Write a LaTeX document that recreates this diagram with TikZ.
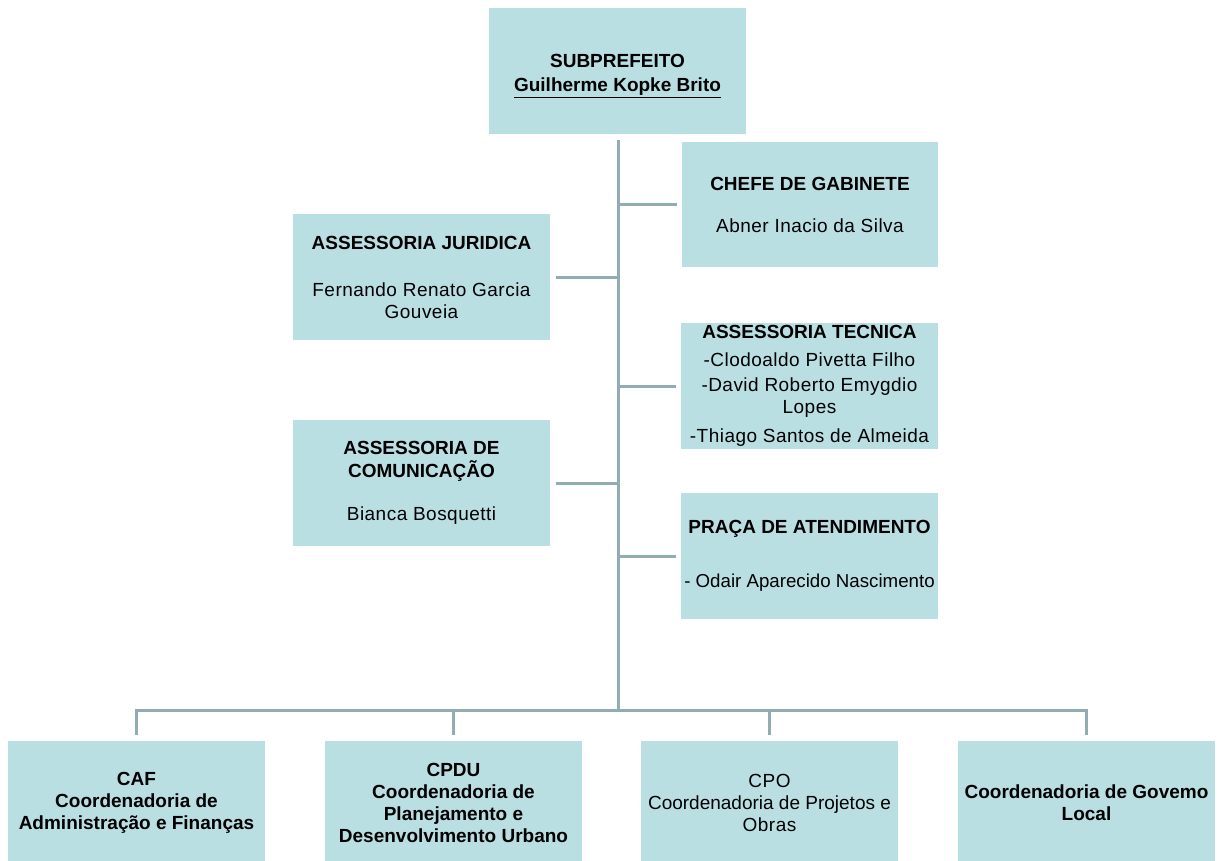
\documentclass[tikz,border=0pt]{standalone}
\usepackage{fontspec}
\setmainfont{Liberation Sans}[LetterSpace=2.5, BoldFeatures={LetterSpace=0}]
\newfontfamily\tightfont{Liberation Sans}
\definecolor{boxfill}{RGB}{186,223,227}
\definecolor{linecol}{RGB}{145,172,178}
\begin{document}
\begin{tikzpicture}[x=1pt,y=-1pt,
  orgbox/.style={fill=boxfill, draw=none, inner sep=0pt, minimum width=257pt, minimum height=126pt, align=center, font=\fontsize{19}{22}\selectfont},
  conn/.style={draw=linecol, line width=3pt}]
\useasboundingbox (0,0) rectangle (1223,861);
\fill[white] (0,0) rectangle (1223,861);
% boxes
\node[orgbox] (sub) at (617.5,71) {\rule{0pt}{23pt}\textbf{SUBPREFEITO}\\[2pt]\textbf{\underline{Guilherme Kopke Brito}}};
\node[orgbox, minimum width=256pt, minimum height=125pt] (chefe) at (810,204.5) {\textbf{CHEFE DE GABINETE}\\[20pt]Abner Inacio da Silva};
\node[orgbox] (jur) at (421.5,277) {\textbf{ASSESSORIA JURIDICA}\\[25pt]Fernando Renato Garcia\\Gouveia};
\node[orgbox] (tec) at (809.5,386) {\textbf{ASSESSORIA TECNICA}\\[6pt]-Clodoaldo Pivetta Filho\\[3pt]-David Roberto Emygdio\\Lopes\\[7pt]-Thiago Santos de Almeida};
\node[orgbox] (com) at (421.5,483) {\textbf{ASSESSORIA DE}\\[1pt]\textbf{COMUNICAÇÃO}\\[21pt]Bianca Bosquetti};
\node[orgbox] (praca) at (809.5,556) {\textbf{PRAÇA DE ATENDIMENTO}\\[32pt]{\tightfont\fontsize{18.7}{22}\selectfont - Odair Aparecido Nascimento}};
\node[orgbox, minimum height=124pt] (caf) at (136.5,803) {\bfseries CAF\\\bfseries Coordenadoria de\\\bfseries Administração e Finanças};
\node[orgbox, minimum height=124pt] (cpdu) at (453.5,803) {\bfseries CPDU\\\bfseries Coordenadoria de\\\bfseries Planejamento e\\\bfseries Desenvolvimento Urbano};
\node[orgbox, minimum height=124pt] (cpo) at (769.5,803) {CPO\\{\tightfont Coordenadoria de Projetos e}\\Obras};
\node[orgbox, minimum height=124pt] (gov) at (1086.5,803) {\bfseries Coordenadoria de Govemo\\\bfseries Local};
% connectors
\coordinate (bus) at (618,710);
\draw[conn, shorten <=6pt] (sub.south -| bus) -- (bus);
\draw[conn, shorten >=5pt] (chefe.west -| bus) -- (chefe.west);
\draw[conn, shorten >=5pt] (tec.west -| bus) -- (tec.west);
\draw[conn, shorten >=5pt] (praca.west -| bus) -- (praca.west);
\draw[conn, shorten >=6pt] (jur.east -| bus) -- (jur.east);
\draw[conn, shorten >=6pt] (com.east -| bus) -- (com.east);
\draw[conn, shorten <=6pt, shorten >=6pt] (caf.north) -- (caf.north |- bus) -- (gov.north |- bus) -- (gov.north);
\draw[conn, shorten >=6pt] (cpdu.north |- bus) -- (cpdu.north);
\draw[conn, shorten >=6pt] (cpo.north |- bus) -- (cpo.north);
\end{tikzpicture}
\end{document}
